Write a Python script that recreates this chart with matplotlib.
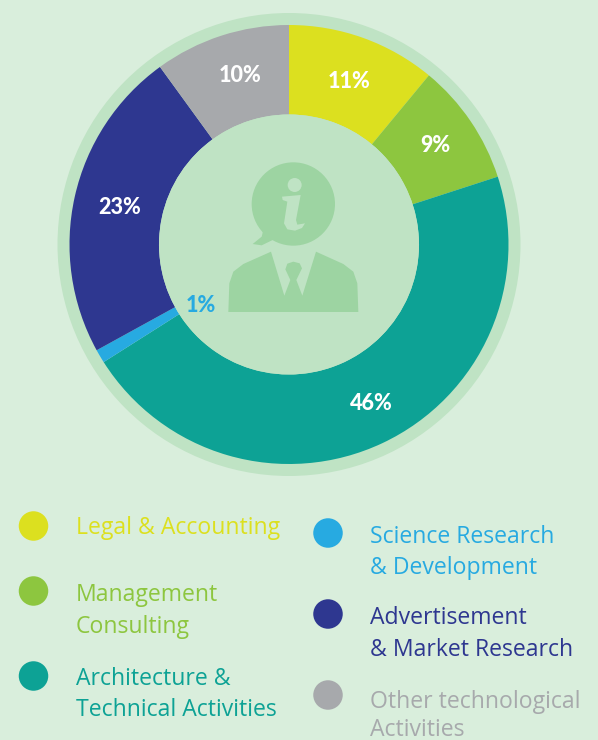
# -*- coding: utf-8 -*-
import matplotlib
matplotlib.use('Agg')
import matplotlib.pyplot as plt
from matplotlib.patches import Circle, Ellipse, Polygon

categories = ['Legal & Accounting', 'Management Consulting', 'Architecture & Technical Activities',
              'Science Research & Development', 'Advertisement & Market Research', 'Other technological Activities']
values = [11, 9, 46, 1, 23, 10]
colors = ['#DCE01F', '#8DC63F', '#0DA295', '#27AAE1', '#2E3790', '#A7A9AC']
legend_lines = [['Legal & Accounting'], ['Management', 'Consulting'], ['Architecture &', 'Technical Activities'],
                ['Science Research', '& Development'], ['Advertisement', '& Market Research'],
                ['Other technological', 'Activities']]

BG = '#D9EEDC'
RING = '#BFE3C4'
ICON = '#9DD4A2'
W, H = 598, 740
FONT = 'Open Sans'
BOLD_FONT = 'Lato'


def py(y):
    # picture pixels run downwards, axes upwards
    return H - y


def zoomed(pts):
    return [(200 + x / 3.0, py(140 + y / 3.0)) for x, y in pts]


fig = plt.figure(figsize=(W / 100.0, H / 100.0), dpi=100, facecolor=BG)
ax = fig.add_axes([0, 0, 1, 1])
ax.set_xlim(0, W)
ax.set_ylim(0, H)
ax.axis('off')

cx, cy = 289, py(244.5)
ax.add_patch(Circle((cx, cy), 231.5, fc=RING, ec='none', zorder=1))
ax.pie(values, colors=colors, startangle=90, counterclock=False, center=(cx, cy), radius=219.5,
       wedgeprops={'width': 89.5, 'linewidth': 0, 'zorder': 2}, frame=False)
ax.set_xlim(0, W)
ax.set_ylim(0, H)
ax.set_aspect('auto')
ax.add_patch(Circle((cx, cy), 130, fc=RING, ec='none', zorder=3))

# icon: speech bubble, i and suit
ax.add_patch(Circle(zoomed([(280, 192)])[0], 125 / 3.0, fc=ICON, ec='none', zorder=4))
tail = [(190, 270), (185, 290), (158, 312), (185, 316), (218, 300)]
ax.add_patch(Polygon(zoomed(tail), fc=ICON, ec='none', zorder=4))
ax.add_patch(Circle(zoomed([(284, 135)])[0], 21 / 3.0, fc=RING, ec='none', zorder=5))
i_body = [(246, 170), (302, 165), (288, 240), (292, 254), (315, 250), (306, 264), (285, 272),
          (262, 268), (252, 250), (262, 185), (248, 180)]
ax.add_patch(Polygon(zoomed(i_body), fc=RING, ec='none', zorder=5))
suit = [(85, 516), (88, 430), (100, 395), (130, 372), (213, 335), (253, 467), (271, 420), (256, 388),
        (262, 371), (280, 365), (299, 370), (306, 385), (289, 420), (307, 467), (348, 335), (430, 372),
        (460, 395), (472, 430), (475, 516)]
ax.add_patch(Polygon(zoomed(suit), fc=ICON, ec='none', zorder=4))

# percent labels
label_xy = [(349, 82), (435, 146), (371, 404), (201, 306), (120, 207), (240, 76)]
for v, (x, y), c in zip(values, label_xy, colors):
    col = c if v == 1 else 'white'
    ax.text(x, py(y), '%d%%' % v, color=col, fontsize=15.5, fontweight='black', family=BOLD_FONT,
            ha='center', va='center', zorder=6)

# legend
dot_xy = [(33.5, 526), (33.5, 591), (33.5, 676), (328, 533), (328, 614), (328, 695)]
text_x = [76, 76, 76, 370, 370, 370]
baselines = [[534], [601, 633], [685, 716], [543, 574], [624, 656], [708, 736]]
for (x, y), tx, lines, bases, c in zip(dot_xy, text_x, legend_lines, baselines, colors):
    ax.add_patch(Ellipse((x, py(y)), 29.5, 29.5, fc=c, ec='none', zorder=4))
    for line, b in zip(lines, bases):
        ax.text(tx, py(b), line, color=c, fontsize=16.6, family=FONT, ha='left', va='baseline', zorder=4)

fig.savefig('out.png', dpi=100, facecolor=BG)
